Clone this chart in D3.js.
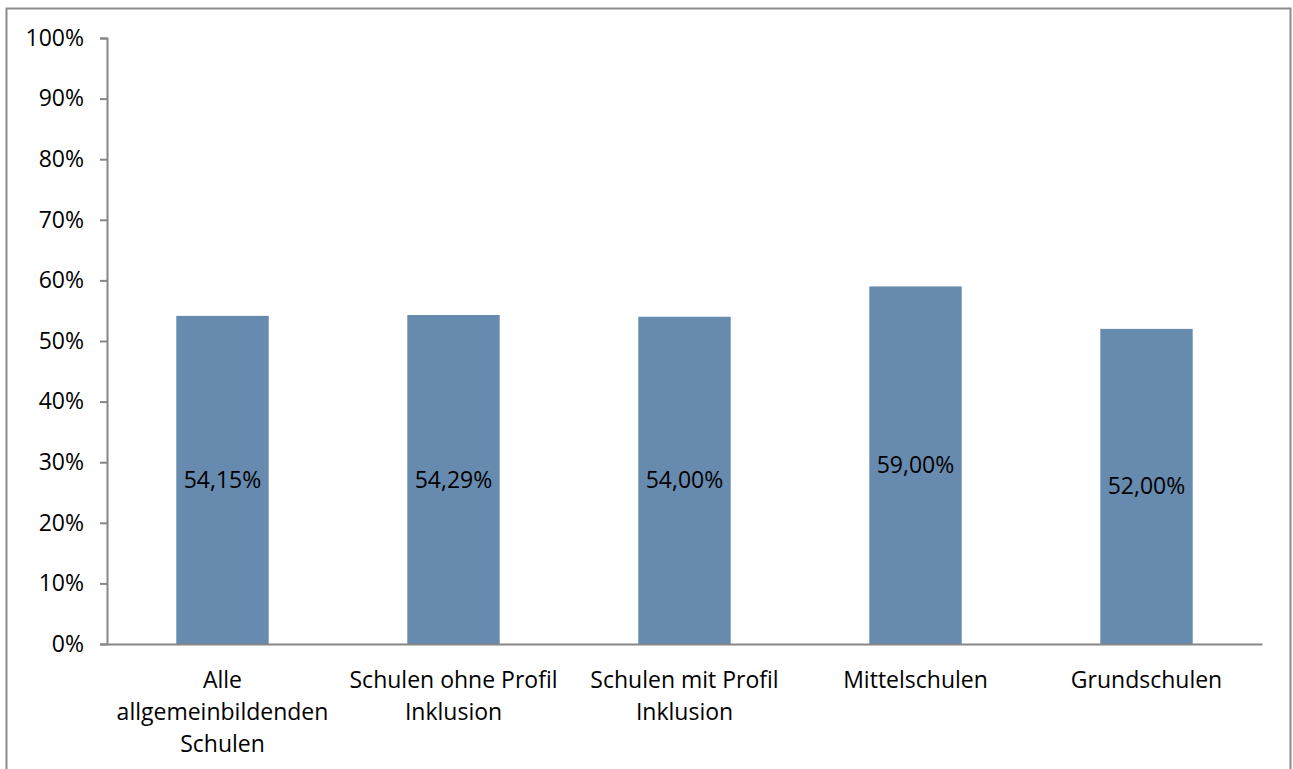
<!DOCTYPE html>
<html>
<head>
<meta charset="utf-8">
<script src="https://cdn.jsdelivr.net/npm/d3@7"></script>
<style>
  body { margin: 0; background: #fff; }
  svg { display: block; font-family: "Open Sans", sans-serif; }
</style>
</head>
<body>
<svg id="chart"></svg>
<script>
// chart data
const categories = [
    ["Alle", "allgemeinbildenden", "Schulen"],
    ["Schulen ohne Profil", "Inklusion"],
    ["Schulen mit Profil", "Inklusion"],
    ["Mittelschulen"],
    ["Grundschulen"]
];
const values = [54.15, 54.29, 54.00, 59.00, 52.00];
const valueLabels = ["54,15%", "54,29%", "54,00%", "59,00%", "52,00%"];
const yTicks = [0, 10, 20, 30, 40, 50, 60, 70, 80, 90, 100];

const width = 1293, height = 769;
const margin = { top: 38, right: 31, bottom: 125, left: 107 };
const innerWidth = width - margin.left - margin.right;
const innerHeight = height - margin.top - margin.bottom;
const fontSize = 23;

const svg = d3.select("#chart")
    .attr("width", width)
    .attr("height", height);

// outer frame
svg.append("rect")
    .attr("x", 6.5).attr("y", 8.5)
    .attr("width", 1284).attr("height", 775)
    .attr("fill", "none")
    .attr("stroke", "#8c8c8c")
    .attr("stroke-width", 2);

const xScale = d3.scaleBand()
    .domain(d3.range(categories.length))
    .range([0, innerWidth])
    .paddingInner(0.6)
    .paddingOuter(0.3);

const yScale = d3.scaleLinear()
    .domain([0, 100])
    .range([innerHeight, 0]);

const g = svg.append("g")
    .attr("transform", `translate(${margin.left},${margin.top})`);

g.selectAll("rect.bar")
    .data(values)
    .enter().append("rect")
    .attr("class", "bar")
    .attr("x", (d, i) => xScale(i))
    .attr("y", d => yScale(d))
    .attr("width", xScale.bandwidth())
    .attr("height", d => innerHeight - yScale(d))
    .attr("fill", "#678aaf");

g.selectAll("text.val")
    .data(values)
    .enter().append("text")
    .attr("class", "val")
    .attr("x", (d, i) => xScale(i) + xScale.bandwidth() / 2)
    .attr("y", d => (yScale(d) + innerHeight) / 2)
    .attr("dy", "0.35em")
    .attr("text-anchor", "middle")
    .attr("font-size", fontSize)
    .attr("fill", "#000")
    .text((d, i) => valueLabels[i]);

// y axis
const yAxis = g.append("g")
    .call(d3.axisLeft(yScale).tickValues(yTicks).tickSize(7).tickPadding(16)
        .tickFormat(d => d + "%"));
yAxis.select(".domain").attr("stroke", "#868686").attr("stroke-width", 2);
yAxis.selectAll(".tick line").attr("stroke", "#868686").attr("stroke-width", 2);
yAxis.selectAll(".tick text").attr("font-size", fontSize).attr("fill", "#000")
    .attr("font-family", "Open Sans, sans-serif");

// x axis
const xAxis = g.append("g")
    .attr("transform", `translate(0,${innerHeight})`)
    .call(d3.axisBottom(xScale).tickSize(0).tickSizeOuter(0).tickFormat(""));
xAxis.select(".domain").attr("stroke", "#868686").attr("stroke-width", 2);

xAxis.selectAll(".tick").each(function(d) {
    const t = d3.select(this).append("text")
        .attr("text-anchor", "middle")
        .attr("font-size", fontSize)
        .attr("fill", "#000")
        .attr("font-family", "Open Sans, sans-serif");
    categories[d].forEach((line, k) => {
        t.append("tspan")
            .attr("x", 0)
            .attr("y", 44 + k * 32)
            .text(line);
    });
});
</script>
</body>
</html>
